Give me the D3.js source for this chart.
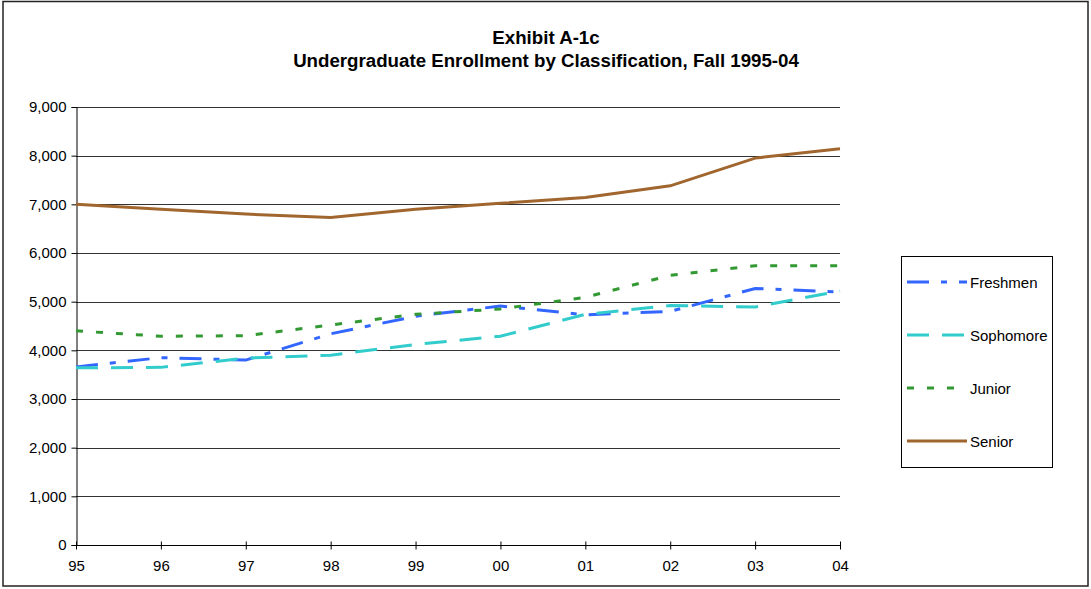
<!DOCTYPE html>
<html>
<head>
<meta charset="utf-8">
<script src="https://cdn.jsdelivr.net/npm/d3@7"></script>
<style>
  html, body { margin: 0; padding: 0; background: #fff; }
  svg { display: block; }
  text { font-family: "Liberation Sans", Arial, sans-serif; fill: #000; }
</style>
</head>
<body>
<svg id="chart" width="1091" height="589"></svg>
<script>
const years = ["95","96","97","98","99","00","01","02","03","04"];
const yTicks = [0,1000,2000,3000,4000,5000,6000,7000,8000,9000];
const seriesNames = ["Freshmen","Sophomore","Junior","Senior"];
const freshmen  = [3660, 3850, 3800, 4340, 4700, 4910, 4730, 4800, 5270, 5200];
const sophomore = [3640, 3650, 3840, 3900, 4120, 4290, 4740, 4920, 4890, 5220];
const junior    = [4400, 4290, 4300, 4520, 4740, 4850, 5090, 5540, 5740, 5740];
const senior    = [7000, 6900, 6800, 6730, 6900, 7020, 7140, 7380, 7950, 8140];
const titleLines = ["Exhibit A-1c", "Undergraduate Enrollment by Classification, Fall 1995-04"];

const styles = {
  Freshmen:  { color: "#3366FF", dash: "22,12,6,12", width: 3 },
  Sophomore: { color: "#33CCCC", dash: "22,13", width: 3 },
  Junior:    { color: "#339933", dash: "7,13", width: 3 },
  Senior:    { color: "#A0662E", dash: null, width: 3 }
};
const dataMap = { Freshmen: freshmen, Sophomore: sophomore, Junior: junior, Senior: senior };

const svg = d3.select("#chart");

// outer border
svg.append("rect").attr("x", 3).attr("y", 1.5).attr("width", 1085).attr("height", 584.5)
  .attr("fill", "none").attr("stroke", "#222").attr("stroke-width", 1.5);

// title
svg.append("text").attr("x", 546).attr("y", 44).attr("text-anchor", "middle")
  .style("font-size", "18.7px").style("font-weight", "bold").text(titleLines[0]);
svg.append("text").attr("x", 546).attr("y", 67).attr("text-anchor", "middle")
  .style("font-size", "18.7px").style("font-weight", "bold").text(titleLines[1]);

const x = d3.scalePoint().domain(years).range([76, 840]);
const y = d3.scaleLinear().domain([0, 9000]).range([545, 107]);

// gridlines
svg.append("g").selectAll("line").data(yTicks.filter(d => d > 0)).join("line")
  .attr("x1", 76).attr("x2", 840)
  .attr("y1", d => Math.round(y(d)) + 0.5).attr("y2", d => Math.round(y(d)) + 0.5)
  .attr("stroke", "#333").attr("stroke-width", 1);

// y axis
const yAxis = svg.append("g").attr("transform", "translate(76.5,0)")
  .call(d3.axisLeft(y).tickValues(yTicks).tickSize(5).tickPadding(5)
    .tickFormat(d3.format(",")));
yAxis.select(".domain").attr("stroke", "#000");
yAxis.selectAll(".tick line").attr("stroke", "#000");
yAxis.selectAll("text").style("font-size", "15px").style("font-family", "Liberation Sans, Arial, sans-serif");

// x axis
const xAxis = svg.append("g").attr("transform", "translate(0,545.5)")
  .call(d3.axisBottom(x).tickSize(4).tickSizeOuter(0).tickPadding(11));
xAxis.select(".domain").attr("stroke", "#000").attr("d", "M76,0H840");
xAxis.selectAll(".tick line").attr("y1", -4).attr("y2", 4).attr("stroke", "#000");
xAxis.selectAll("text").style("font-size", "15px").style("font-family", "Liberation Sans, Arial, sans-serif");

// lines
const line = d3.line().x((d, i) => x(years[i])).y(d => y(d));
seriesNames.forEach(name => {
  const s = styles[name];
  svg.append("path").datum(dataMap[name])
    .attr("fill", "none").attr("stroke", s.color).attr("stroke-width", s.width)
    .attr("stroke-dasharray", s.dash).attr("d", line);
});

// legend
const lg = svg.append("g");
lg.append("rect").attr("x", 901.5).attr("y", 256.5).attr("width", 151).attr("height", 211)
  .attr("fill", "#fff").attr("stroke", "#000").attr("stroke-width", 1);
const legY = [282, 335, 388, 441];
seriesNames.forEach((name, i) => {
  const s = styles[name];
  lg.append("line").attr("x1", 907).attr("x2", 967).attr("y1", legY[i]).attr("y2", legY[i])
    .attr("stroke", s.color).attr("stroke-width", s.width).attr("stroke-dasharray", s.dash);
  lg.append("text").attr("x", 970).attr("y", legY[i] + 5.5).style("font-size", "15px").text(name);
});
</script>
</body>
</html>
